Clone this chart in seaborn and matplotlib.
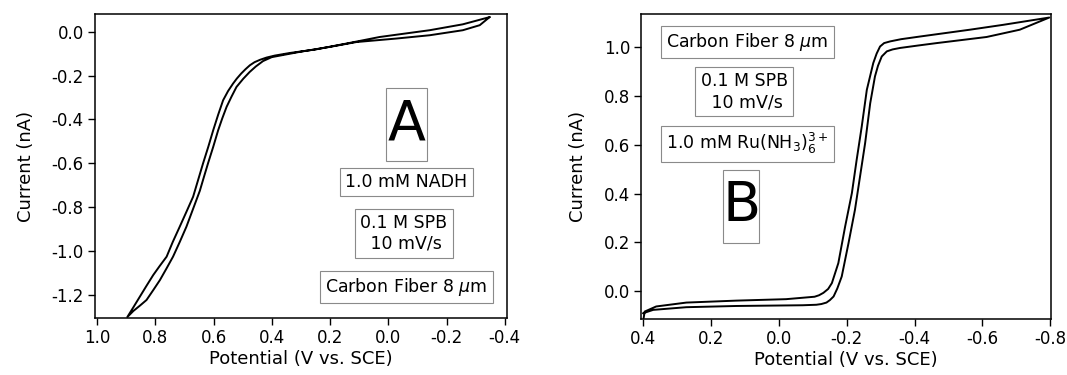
import matplotlib
matplotlib.use("Agg")
import matplotlib.pyplot as plt
import seaborn as sns
import pandas as pd
from matplotlib.patches import Rectangle

# panel A: NADH oxidation, one closed sweep (V vs. SCE, nA)
a_pot = [-0.348, -0.256, -0.142, 0.030, 0.144, 0.250, 0.338, 0.390, 0.418, 0.440,
         0.459, 0.475, 0.490, 0.505, 0.520, 0.533, 0.550, 0.567, 0.584, 0.601,
         0.618, 0.636, 0.653, 0.670, 0.693, 0.716, 0.740, 0.761, 0.785, 0.807,
         0.830, 0.853, 0.875, 0.896,
         0.875, 0.852, 0.830, 0.807, 0.784, 0.761, 0.739, 0.716, 0.693, 0.670,
         0.647, 0.633, 0.619, 0.601, 0.584, 0.570, 0.555, 0.538, 0.521, 0.498,
         0.476, 0.455, 0.430, 0.400, 0.300, 0.200, 0.109, -0.028, -0.142, -0.256,
         -0.314, -0.348]
a_cur = [0.068, 0.035, 0.008, -0.023, -0.053, -0.080, -0.096, -0.108, -0.117, -0.127,
         -0.138, -0.152, -0.170, -0.190, -0.213, -0.236, -0.270, -0.312, -0.378, -0.449,
         -0.525, -0.601, -0.677, -0.753, -0.822, -0.890, -0.960, -1.027, -1.070, -1.111,
         -1.160, -1.210, -1.258, -1.303,
         -1.275, -1.250, -1.225, -1.180, -1.134, -1.080, -1.027, -0.960, -0.890, -0.808,
         -0.726, -0.663, -0.601, -0.525, -0.449, -0.395, -0.342, -0.295, -0.251, -0.214,
         -0.183, -0.158, -0.133, -0.115, -0.090, -0.068, -0.046, -0.030, -0.015, 0.008,
         0.031, 0.068]

# panel B: Ru(NH3)6 3+ reduction
b_pot = [0.401, 0.371, 0.273, 0.126, -0.070, -0.110, -0.125, -0.140, -0.150, -0.161,
         -0.172, -0.185, -0.205, -0.224, -0.239, -0.254, -0.269, -0.283, -0.292, -0.303,
         -0.318, -0.335, -0.357, -0.410, -0.465, -0.612, -0.710, -0.797,
         -0.661, -0.563, -0.416, -0.360, -0.328, -0.310, -0.298, -0.288, -0.278, -0.259,
         -0.244, -0.229, -0.215, -0.195, -0.175, -0.156, -0.145, -0.131, -0.118, -0.105,
         -0.021, 0.126, 0.273, 0.362, 0.396, 0.399]
b_cur = [-0.092, -0.078, -0.067, -0.062, -0.059, -0.057, -0.054, -0.048, -0.038, -0.023,
         0.010, 0.059, 0.196, 0.333, 0.470, 0.607, 0.771, 0.881, 0.925, 0.963,
         0.984, 0.992, 0.998, 1.008, 1.018, 1.043, 1.073, 1.123,
         1.093, 1.073, 1.045, 1.034, 1.025, 1.018, 1.004, 0.975, 0.936, 0.826,
         0.675, 0.538, 0.402, 0.264, 0.114, 0.032, 0.008, -0.008, -0.018, -0.024,
         -0.034, -0.040, -0.048, -0.064, -0.085, -0.112]

a_yticks = [0.0, -0.2, -0.4, -0.6, -0.8, -1.0, -1.2]
a_xticks = [1.0, 0.8, 0.6, 0.4, 0.2, 0.0, -0.2, -0.4]
b_yticks = [0.0, 0.2, 0.4, 0.6, 0.8, 1.0]
b_xticks = [0.4, 0.2, 0.0, -0.2, -0.4, -0.6, -0.8]

a_labels = ["1.0 mM NADH", "0.1 M SPB\n 10 mV/s", "Carbon Fiber 8 $\\mu$m"]
b_labels = ["Carbon Fiber 8 $\\mu$m", "0.1 M SPB\n 10 mV/s", "1.0 mM Ru(NH$_3$)$_6^{3+}$"]

sns.set_style("white")
plt.rcParams['font.family'] = ['DejaVu Sans']
plt.rcParams['mathtext.fontset'] = 'dejavusans'
plt.rcParams['text.color'] = 'black'
plt.rcParams['axes.labelcolor'] = 'black'
plt.rcParams['xtick.color'] = 'black'
plt.rcParams['ytick.color'] = 'black'

fig = plt.figure(figsize=(10.67, 3.75), dpi=100)
axA = fig.add_axes([0.089, 0.151, 0.386, 0.811])
axB = fig.add_axes([0.601, 0.149, 0.384, 0.814])

dfA = pd.DataFrame({"pot": a_pot, "cur": a_cur})
dfB = pd.DataFrame({"pot": b_pot, "cur": b_cur})
sns.lineplot(data=dfA, x="pot", y="cur", sort=False, estimator=None, color="black", lw=1.4, ax=axA)
sns.lineplot(data=dfB, x="pot", y="cur", sort=False, estimator=None, color="black", lw=1.4, ax=axB)

box = dict(boxstyle="square,pad=0.3", fc="white", ec="#8a8a8a", lw=0.8)


def style(ax, xt, yt, xlim, ylim):
    ax.set_xlim(*xlim)
    ax.set_ylim(*ylim)
    ax.set_xticks(xt)
    ax.set_yticks(yt)
    ax.set_xticklabels([f"{v:.1f}" for v in xt])
    ax.set_yticklabels([f"{v:.1f}" for v in yt])
    ax.tick_params(direction="out", length=5, width=1, labelsize=12, color="black",
                   labelcolor="black", left=True, bottom=True, top=False, right=False, pad=3)
    for s in ax.spines.values():
        s.set_color("black")
        s.set_linewidth(1.1)
    ax.set_xlabel("Potential (V vs. SCE)", fontsize=13, labelpad=2, color="black")
    ax.set_ylabel("Current (nA)", fontsize=13, labelpad=12, color="black")


def letter(ax, ch, x0, y0, x1, y1):
    ax.add_patch(Rectangle((x0, y0), x1 - x0, y1 - y0, transform=ax.transAxes,
                           fc="white", ec="#8a8a8a", lw=0.8, zorder=3))
    ax.text((x0 + x1) / 2, (y0 + y1) / 2, ch, transform=ax.transAxes, ha="center",
            va="center", fontsize=40, color="black", zorder=4)


style(axA, a_xticks, a_yticks, (1.007, -0.407), (-1.309, 0.081))
style(axB, b_xticks, b_yticks, (0.406, -0.802), (-0.116, 1.138))

letter(axA, "A", 0.706, 0.517, 0.806, 0.757)
for (fx, fy), t in zip([(0.756, 0.448), (0.750, 0.280), (0.756, 0.103)], a_labels):
    axA.text(fx, fy, t, transform=axA.transAxes, ha="center", va="center", fontsize=12.5,
             multialignment="center", bbox=box)

for (fx, fy), t in zip([(0.2585, 0.907), (0.251, 0.745), (0.2585, 0.574)], b_labels):
    axB.text(fx, fy, t, transform=axB.transAxes, ha="center", va="center", fontsize=12.5,
             multialignment="center", bbox=box)
letter(axB, "B", 0.200, 0.249, 0.288, 0.489)

fig.savefig("out.png", dpi=100)
